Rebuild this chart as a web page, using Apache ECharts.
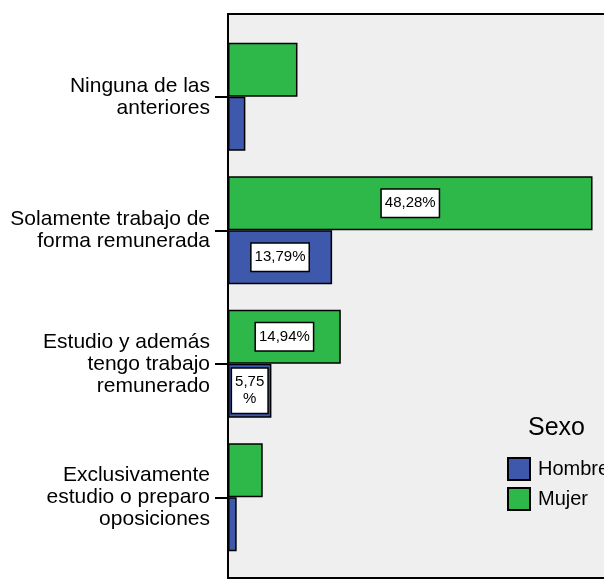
<!DOCTYPE html>
<html>
<head>
<meta charset="utf-8">
<script src="https://cdn.jsdelivr.net/npm/echarts@6/dist/echarts.min.js"></script>
<style>
  html, body { margin: 0; padding: 0; background: #fff; }
  #main { width: 604px; height: 580px; }
</style>
</head>
<body>
<div id="main"></div>
<script>
// categorias (de arriba a abajo)
const categorias = [
  'Ninguna de las\nanteriores',
  'Solamente trabajo de\nforma remunerada',
  'Estudio y además\ntengo trabajo\nremunerado',
  'Exclusivamente\nestudio o preparo\noposiciones'
];
// porcentajes
const hombre = [2.30, 13.79, 5.75, 1.15];
const mujer = [9.20, 48.28, 14.94, 4.60];
// que barras llevan etiqueta
const etiquetaHombre = [false, true, true, false];
const etiquetaMujer = [false, true, true, false];

const fuente = 'Liberation Sans, Arial, sans-serif';

function fmt(p) {
  let v = p.value.toFixed(2).replace('.', ',');
  // barra estrecha: el % pasa a otra linea
  return p.value < 10 ? v + '\n%' : v + '%';
}

function datos(valores, etiquetas) {
  return valores.map(function (v, i) {
    return { value: v, label: { show: etiquetas[i] } };
  });
}

const etiqueta = {
  position: 'inside',
  formatter: fmt,
  color: '#000',
  fontFamily: fuente,
  fontSize: 15,
  lineHeight: 17,
  backgroundColor: '#fff',
  borderColor: '#000',
  borderWidth: 1.5,
  padding: [5, 3]
};

var myChart = echarts.init(document.getElementById('main'));

var option = {
  animation: false,
  backgroundColor: '#fff',
  title: {
    text: 'Sexo',
    left: 528,
    top: 416,
    padding: 0,
    textStyle: { fontFamily: fuente, fontSize: 25, fontWeight: 'normal', color: '#000' }
  },
  legend: {
    data: ['Hombre', 'Mujer'],
    orient: 'vertical',
    left: 507,
    top: 457,
    padding: 0,
    itemWidth: 22,
    itemHeight: 22,
    itemGap: 6,
    icon: 'rect',
    textStyle: { fontFamily: fuente, fontSize: 20, color: '#000', padding: [0, 0, 0, 3] }
  },
  // marco del grafico
  graphic: [{
    type: 'rect',
    z: -1,
    shape: { x: 228, y: 14, width: 420, height: 564 },
    style: { fill: '#efefef', stroke: '#000', lineWidth: 2 }
  }],
  grid: { left: 228, right: 0, top: 30, bottom: 16 },
  xAxis: {
    type: 'value',
    min: 0,
    max: 49.8,
    show: false
  },
  yAxis: {
    type: 'category',
    inverse: true,
    data: categorias,
    axisLine: { show: true, lineStyle: { color: '#000', width: 2 } },
    axisTick: { show: true, alignWithLabel: true, length: 13, lineStyle: { color: '#000', width: 2 } },
    axisLabel: {
      margin: 18,
      color: '#000',
      fontFamily: fuente,
      fontSize: 21,
      lineHeight: 22,
      padding: [5, 0, 0, 0],
      align: 'right'
    }
  },
  series: [
    {
      name: 'Mujer',
      type: 'bar',
      barWidth: 54,
      barGap: '0%',
      itemStyle: { color: '#2eb84a', borderColor: '#000', borderWidth: 1.5 },
      label: etiqueta,
      data: datos(mujer, etiquetaMujer)
    },
    {
      name: 'Hombre',
      type: 'bar',
      barWidth: 54,
      barGap: '0%',
      itemStyle: { color: '#3e58ac', borderColor: '#000', borderWidth: 1.5 },
      label: etiqueta,
      data: datos(hombre, etiquetaHombre)
    }
  ]
};

myChart.setOption(option);
</script>
</body>
</html>
